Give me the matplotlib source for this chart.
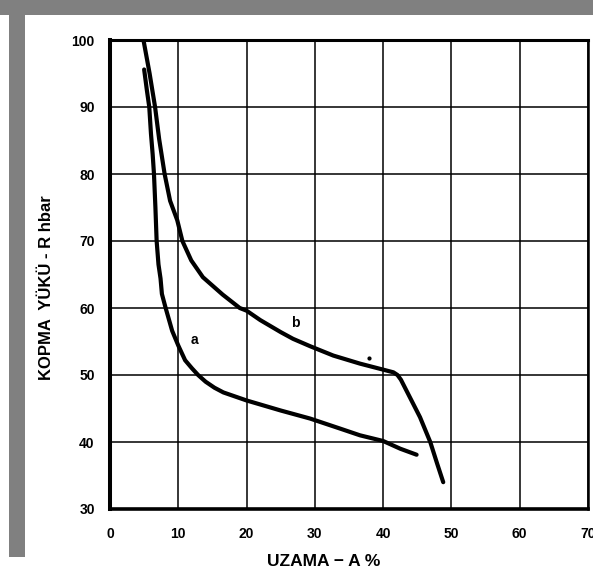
import matplotlib
matplotlib.use("Agg")
from matplotlib import pyplot as plt
from matplotlib.patches import Rectangle

plt.rcParams['font.family'] = ['Liberation Sans', 'DejaVu Sans']
plt.rcParams['font.weight'] = 'bold'
plt.rcParams['axes.labelweight'] = 'bold'

# curve a: elongation (%) vs breaking load (hbar)
a_uzama = [5.0, 5.4, 5.75, 6.0, 6.25, 6.44, 6.65, 6.83, 7.1, 7.4, 7.6, 8.15,
           9.1, 10.0, 11.0, 12.0, 12.9, 14.0, 15.3, 16.6, 20.0, 25.0, 29.3,
           33.7, 36.6, 40.0, 42.5, 44.9]
a_kopma = [95.6, 92.5, 90.0, 86.0, 82.9, 80.0, 75.0, 70.0, 66.5, 64.4, 62.1, 60.0,
           56.6, 54.4, 52.2, 51.0, 50.0, 49.0, 48.1, 47.4, 46.2, 44.7, 43.5,
           42.0, 41.0, 40.15, 39.0, 38.1]

# curve b
b_uzama = [4.9, 5.8, 6.6, 7.2, 8.0, 8.8, 9.85, 10.6, 11.9, 13.6, 16.5, 19.0,
           20.0, 22.0, 25.0, 26.8, 29.3, 32.7, 36.6, 40.0, 41.5, 42.1, 42.6,
           43.2, 43.9, 45.4, 46.9, 47.9, 48.8]
b_kopma = [100.0, 95.0, 90.0, 85.2, 80.0, 76.0, 73.1, 70.0, 67.1, 64.6, 62.0, 60.0,
           59.6, 58.2, 56.4, 55.4, 54.3, 52.9, 51.7, 50.8, 50.4, 50.0, 49.3,
           48.1, 46.7, 43.7, 40.0, 36.8, 34.0]

x_ticks = [0, 10, 20, 30, 40, 50, 60, 70]
y_ticks = [30, 40, 50, 60, 70, 80, 90, 100]

fig = plt.figure(figsize=(5.93, 5.78), dpi=100)

# grey frame strips around the sheet
fig.add_artist(Rectangle((0, 1 - 15 / 578), 1, 15 / 578,
                         transform=fig.transFigure, color='#808080', lw=0))
fig.add_artist(Rectangle((9 / 593, 21 / 578), 16 / 593, 542 / 578,
                         transform=fig.transFigure, color='#808080', lw=0))

ax = fig.add_axes([110 / 593, 69 / 578, 478 / 593, 469 / 578])

ax.plot(a_uzama, a_kopma, color='black', lw=3, solid_capstyle='round',
        solid_joinstyle='round')
ax.plot(b_uzama, b_kopma, color='black', lw=3, solid_capstyle='round',
        solid_joinstyle='round')
ax.plot([38], [52.6], marker='o', ms=2, color='black')

ax.text(12.4, 55.2, 'a', fontsize=10, ha='center', va='center')
ax.text(27.1, 57.7, 'b', fontsize=10, ha='center', va='center')

ax.set_xlim(0, 70)
ax.set_ylim(30, 100)
ax.set_xticks(x_ticks)
ax.set_yticks(y_ticks)
ax.grid(True, color='black', lw=1.1)
ax.set_axisbelow(True)
ax.tick_params(length=0, labelsize=10)
ax.tick_params(axis='y', pad=11)
ax.tick_params(axis='x', pad=13)

for side, w in [('left', 2.9), ('top', 2.2), ('bottom', 2.6), ('right', 1.8)]:
    ax.spines[side].set_linewidth(w)

ax.set_xlabel('UZAMA − A %', fontsize=12.5)
ax.xaxis.set_label_coords(0.446, -0.097)
ax.set_ylabel('KOPMA  YÜKÜ - R hbar', fontsize=12)
ax.yaxis.set_label_coords(-0.118, 0.473)

fig.savefig('out.png', dpi=100)
